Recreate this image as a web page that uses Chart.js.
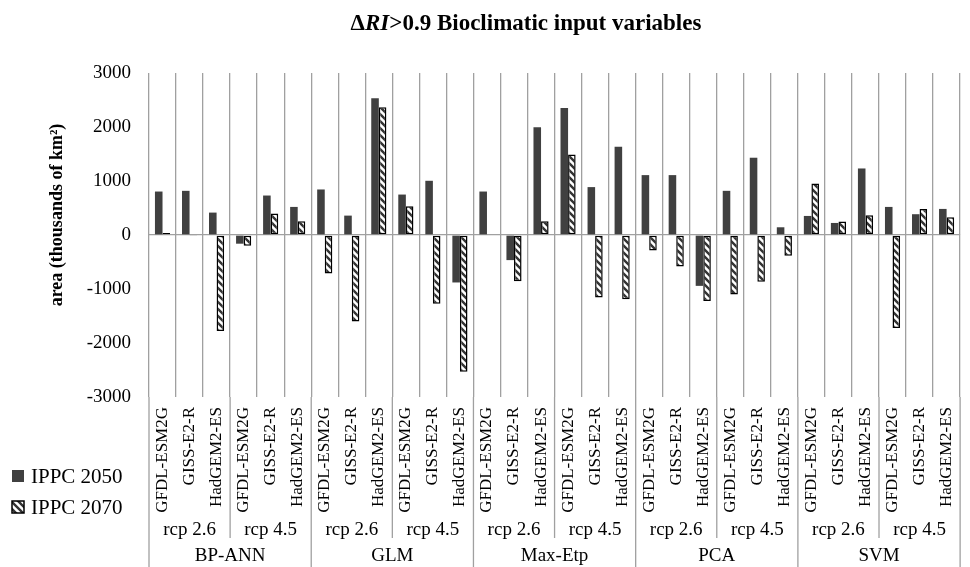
<!DOCTYPE html>
<html>
<head>
<meta charset="utf-8">
<script src="https://cdn.jsdelivr.net/npm/chart.js@4.4.1/dist/chart.umd.min.js"></script>
<style>
    html, body { margin: 0; padding: 0; background: #fff; overflow: hidden; }
    #wrap { width: 977px; height: 567px; }
</style>
</head>
<body>
<div id="wrap"><canvas id="areaChart" width="977" height="567"></canvas></div>
<script>
// categories
const methods = ["BP-ANN", "GLM", "Max-Etp", "PCA", "SVM"];
const scenarios = ["rcp 2.6", "rcp 4.5"];
const gcms = ["GFDL-ESM2G", "GISS-E2-R", "HadGEM2-ES"];

// series (thousands of km2)
const ipcc2050 = [805, 818, 415, -161, 731, 520,
                  843, 359, 2534, 749, 1004, -879,
                  805, -465, 1995, 2351, 887, 1636,
                  1109, 1109, -942, 818, 1431, 143,
                  353, 223, 1232, 520, 385, 483];
const ipcc2070 = [35, -20, -1778, -198, 396, 254,
                  -712, -1604, 2367, 533, -1273, -2533,
                  13, -855, 254, 1493, -1159, -1190,
                  -285, -583, -1221, -1100, -868, -385,
                  954, 251, 366, -1723, 483, 329];

const yTicks = [-3000, -2000, -1000, 0, 1000, 2000, 3000];

const labels = [];
methods.forEach(() => scenarios.forEach(() => gcms.forEach(g => labels.push(g))));

const serif = '"Liberation Serif", "Times New Roman", serif';
Chart.defaults.font.family = serif;
Chart.defaults.color = "#000";

// hatch pattern for the 2070 bars
const tile = document.createElement("canvas");
tile.width = 7;
tile.height = 7;
const tg = tile.getContext("2d");
tg.fillStyle = "#fff";
tg.fillRect(0, 0, 7, 7);
tg.strokeStyle = "#333";
tg.lineWidth = 2.4;
tg.beginPath();
tg.moveTo(-1, -1); tg.lineTo(8, 8);
tg.moveTo(-1, 6); tg.lineTo(1, 8);
tg.moveTo(6, -1); tg.lineTo(8, 1);
tg.stroke();
const hatch = tg.createPattern(tile, "repeat");

const decor = {
    id: "decor",
    afterDraw(chart) {
        const ctx = chart.ctx;
        const xs = chart.scales.x;
        const n = labels.length;
        const step = xs.width / n;
        const bottom = chart.chartArea.bottom;

        ctx.save();
        // group separators below the plot
        ctx.strokeStyle = "#a0a0a0";
        ctx.lineWidth = 1.3;
        for (let b = 0; b <= n; b += 3) {
            const x = xs.left + b * step;
            const end = b % 6 === 0 ? 567 : 538;
            ctx.beginPath();
            ctx.moveTo(x, bottom);
            ctx.lineTo(x, end);
            ctx.stroke();
        }

        // scenario and method labels
        ctx.fillStyle = "#000";
        ctx.textAlign = "center";
        ctx.textBaseline = "middle";
        ctx.font = "19px " + serif;
        for (let i = 0; i < methods.length * scenarios.length; i++) {
            const x = xs.left + (i * 3 + 1.5) * step;
            ctx.fillText(scenarios[i % 2], x, 530);
        }
        methods.forEach((m, i) => {
            const x = xs.left + (i * 6 + 3) * step;
            ctx.fillText(m, x, 556);
        });

        // title with italic RI
        const parts = [["\u0394", "bold "], ["RI", "italic bold "], [">0.9 Bioclimatic input variables", "bold "]];
        let total = 0;
        parts.forEach(p => { ctx.font = p[1] + "23px " + serif; total += ctx.measureText(p[0]).width; });
        let tx = 526 - total / 2;
        ctx.textAlign = "left";
        ctx.textBaseline = "alphabetic";
        parts.forEach(p => {
            ctx.font = p[1] + "23px " + serif;
            ctx.fillText(p[0], tx, 30);
            tx += ctx.measureText(p[0]).width;
        });

        // y axis title
        ctx.save();
        ctx.translate(57, 215);
        ctx.rotate(-Math.PI / 2);
        ctx.textAlign = "center";
        ctx.textBaseline = "middle";
        ctx.font = "bold 18px " + serif;
        ctx.fillText("area (thousands of km\u00b2)", 0, 0);
        ctx.restore();

        // legend
        const ds = chart.data.datasets;
        ctx.font = "21px " + serif;
        ctx.textAlign = "left";
        ctx.textBaseline = "middle";
        ctx.fillStyle = ds[0].backgroundColor;
        ctx.fillRect(12, 470, 12, 12);
        ctx.fillStyle = "#000";
        ctx.fillText(ds[0].label, 31, 477);
        ctx.fillStyle = ds[1].backgroundColor;
        ctx.fillRect(12, 501, 12, 12);
        ctx.strokeStyle = "#000";
        ctx.lineWidth = 1.5;
        ctx.strokeRect(12, 501, 12, 12);
        ctx.fillStyle = "#000";
        ctx.fillText(ds[1].label, 31, 508);
        ctx.restore();
    }
};

new Chart(document.getElementById("areaChart").getContext("2d"), {
    type: "bar",
    data: {
        labels: labels,
        datasets: [
            {
                label: "IPPC 2050",
                data: ipcc2050,
                backgroundColor: "#404040",
                borderWidth: 0,
            },
            {
                label: "IPPC 2070",
                data: ipcc2070,
                backgroundColor: hatch,
                borderColor: "#000",
                borderWidth: 1.5,
                borderSkipped: false,
            },
        ],
    },
    options: {
        responsive: false,
        animation: false,
        devicePixelRatio: 1,
        layout: { padding: { top: 73, right: 0, left: 0, bottom: 0 } },
        datasets: { bar: { categoryPercentage: 0.56, barPercentage: 1 } },
        plugins: {
            legend: { display: false },
            tooltip: { enabled: false },
        },
        scales: {
            x: {
                grid: { offset: true, color: "#a0a0a0", lineWidth: 1.3, drawTicks: false },
                border: { display: false },
                ticks: {
                    autoSkip: false,
                    maxRotation: 90,
                    minRotation: 90,
                    padding: 10,
                    font: { size: 17 },
                    color: "#000",
                },
                afterFit: (scale) => { scale.height = 170; },
            },
            y: {
                min: -3000,
                max: 3000,
                afterBuildTicks: (scale) => { scale.ticks = yTicks.map(v => ({ value: v })); },
                grid: {
                    drawTicks: false,
                    color: (c) => (c.tick && c.tick.value === 0 ? "#a0a0a0" : "rgba(0,0,0,0)"),
                    lineWidth: 1.3,
                },
                border: { display: false },
                ticks: {
                    padding: 18,
                    font: { size: 19 },
                    color: "#000",
                    callback: (v) => String(v),
                },
                afterFit: (scale) => { scale.width = 149; },
            },
        },
    },
    plugins: [decor],
});
</script>
</body>
</html>
